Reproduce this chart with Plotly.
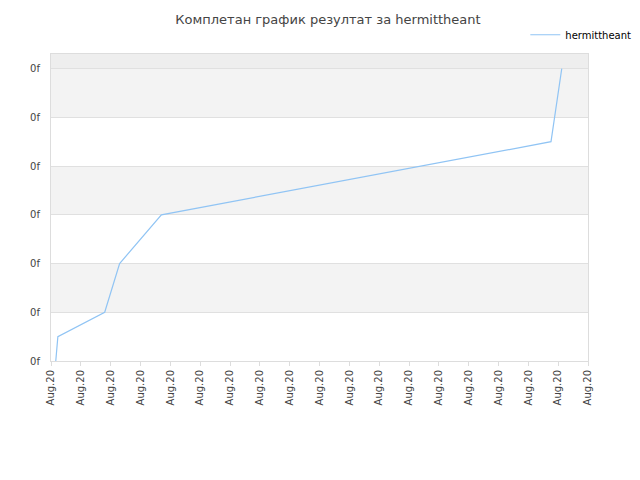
import plotly.graph_objects as go

# data
x_days = [0.16, 0.23, 1.8, 2.3, 3.7, 16.76, 17.12]
y_vals = [0, 0.5, 1, 2, 3, 4.5, 6]
x_ticks = list(range(19))
x_labels = ["Aug.20"] * 19
y_ticks = [0, 1, 2, 3, 4, 5, 6]
y_labels = ["0f"] * 7

fig = go.Figure()

# alternating bands
bands = [(1, 2, "#f3f3f3"), (3, 4, "#f3f3f3"), (5, 6, "#f3f3f3"), (6, 6.3, "#eeeeee")]
for y0, y1, c in bands:
    fig.add_shape(type="rect", xref="paper", yref="y", x0=0, x1=1, y0=y0, y1=y1,
                  fillcolor=c, line_width=0, layer="below")

fig.add_trace(go.Scatter(x=x_days, y=y_vals, mode="lines", name="hermittheant",
                         line=dict(color="#90c4f4", width=1.2)))

fig.update_layout(
    width=640, height=480,
    margin=dict(l=43, r=48, t=33, b=127),
    plot_bgcolor="white", paper_bgcolor="white",
    font=dict(family="DejaVu Sans", size=10, color="#444"),
    title=dict(text="Комплетан график резултат за hermittheant", x=0.5, y=0.985,
               font=dict(size=13, color="#444")),
    showlegend=True,
    legend=dict(x=1.09, y=1.11, xanchor="right", yanchor="top", bgcolor="rgba(0,0,0,0)",
                font=dict(size=10, color="#000")),
    xaxis=dict(range=[0, 18], tickvals=x_ticks, ticktext=x_labels, tickangle=-90,
               showgrid=False, showline=True, linecolor="#ddd", mirror=True,
               ticks="outside", ticklen=4, tickcolor="#ddd", zeroline=False),
    yaxis=dict(range=[0, 6.3], tickvals=y_ticks, ticktext=y_labels,
               showgrid=True, gridcolor="#e0e0e0", showline=True, linecolor="#ddd",
               mirror=True, zeroline=False, ticks="outside", ticklen=8, tickcolor="white"),
)

fig.write_html("out.html")
